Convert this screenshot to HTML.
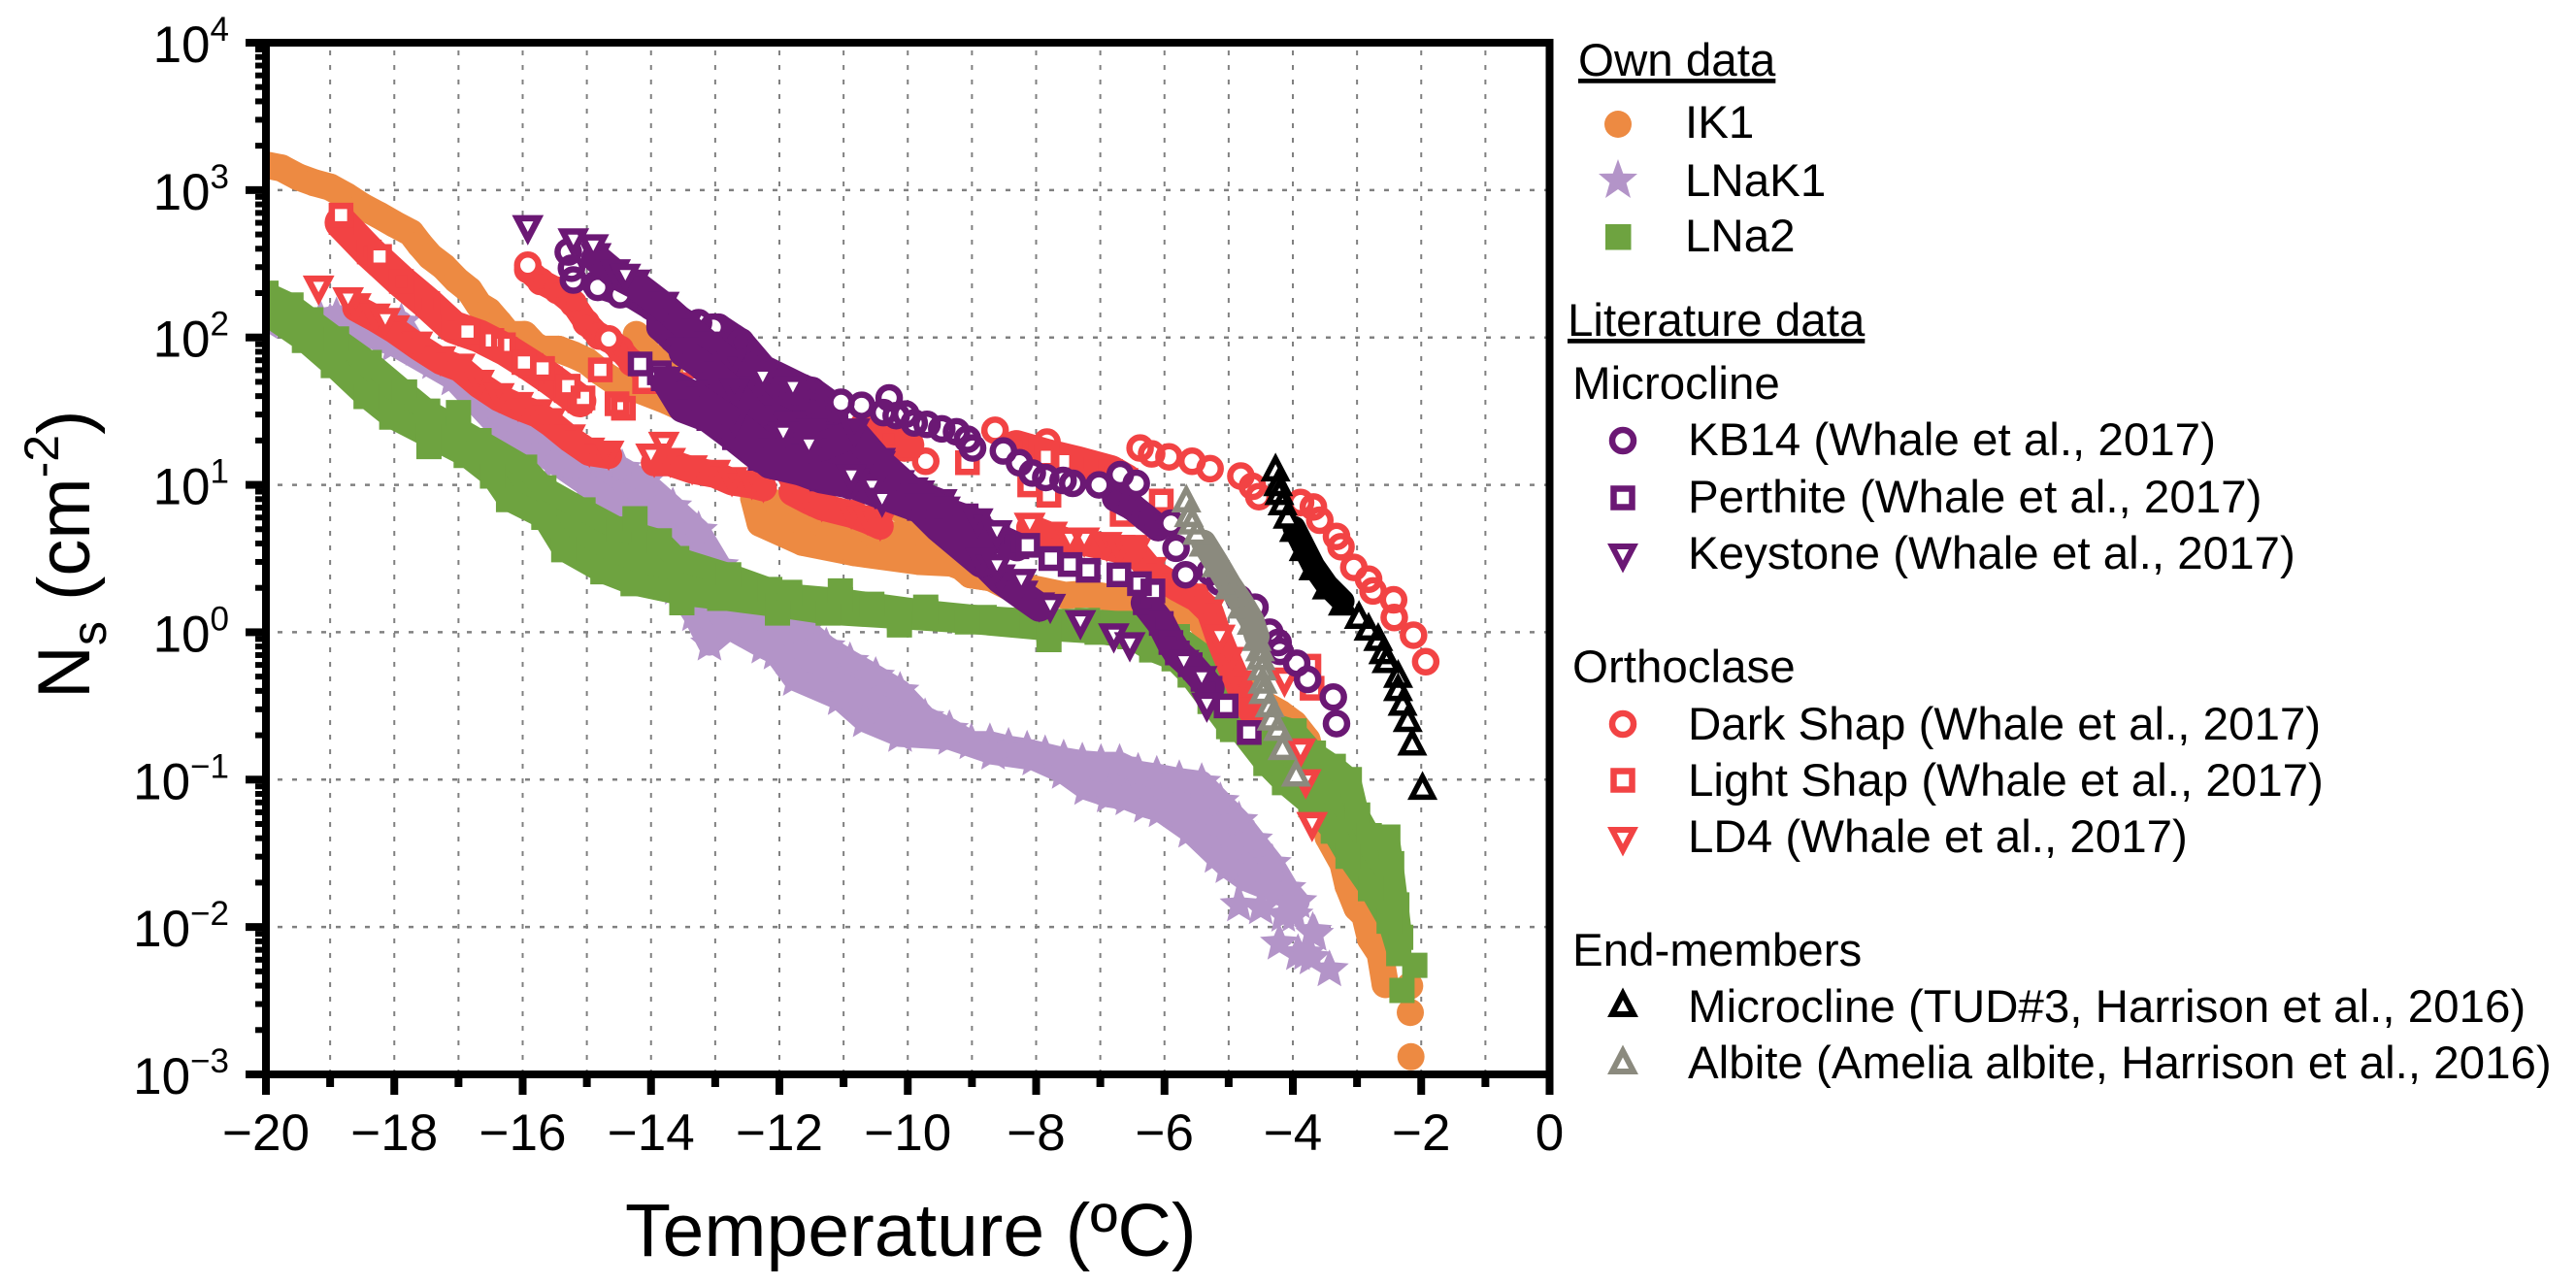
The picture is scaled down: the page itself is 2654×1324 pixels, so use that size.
<!DOCTYPE html>
<html lang="en">
<head>
<meta charset="utf-8">
<title>Ns versus temperature</title>
<style>
html,body{margin:0;padding:0;background:#fff;width:2654px;height:1324px;overflow:hidden}
svg{display:block}
text{font-family:"Liberation Sans",Arial,sans-serif;fill:#000}
.lg{font-size:47.5px}
</style>
</head>
<body>
<svg id="chart" xmlns="http://www.w3.org/2000/svg" width="2654" height="1324" viewBox="0 0 2654 1324">
<rect width="2654" height="1324" fill="#fff"/>
<defs><clipPath id="plotClip"><rect x="274" y="44" width="1322.5" height="1063"/></clipPath></defs>
<g id="grid"></g>
<g id="data" clip-path="url(#plotClip)"></g>
<g id="axes"></g>
<text x="644" y="1294" font-size="77">Temperature (ºC)</text>
<text transform="translate(92,720) rotate(-90)" font-size="76">N<tspan font-size="50" dy="17">s</tspan><tspan dy="-17"> (cm</tspan><tspan font-size="50" dy="-32">-2</tspan><tspan dy="32">)</tspan></text>
<g>
<text class="lg" x="1626" y="78" text-decoration="underline">Own data</text>
<circle cx="1667" cy="128" r="14" fill="#ED8A42"/>
<text class="lg" x="1736" y="142">IK1</text>
<path d="M1667 164 L1672.3 178.7 L1687 179 L1675.6 188.6 L1680 204 L1667 195 L1654 204 L1658.4 188.6 L1647 179 L1661.7 178.7 Z" fill="#B394C8"/>
<text class="lg" x="1736" y="202">LNaK1</text>
<rect x="1654" y="231" width="26.5" height="26.5" fill="#6EA340"/>
<text class="lg" x="1736" y="259">LNa2</text>
<text class="lg" x="1615" y="346" text-decoration="underline">Literature data</text>
<text class="lg" x="1620" y="411">Microcline</text>
<circle cx="1672" cy="454" r="11" fill="#fff" stroke="#6B1874" stroke-width="6.5"/>
<text class="lg" x="1739" y="469">KB14 (Whale et al., 2017)</text>
<rect x="1662.5" y="503.5" width="19" height="19" fill="#fff" stroke="#6B1874" stroke-width="6.5"/>
<text class="lg" x="1739" y="528">Perthite (Whale et al., 2017)</text>
<path d="M1661 563 L1683 563 L1672 584 Z" fill="#fff" stroke="#6B1874" stroke-width="6"/>
<text class="lg" x="1739" y="586">Keystone (Whale et al., 2017)</text>
<text class="lg" x="1620" y="703">Orthoclase</text>
<circle cx="1672" cy="746" r="11" fill="#fff" stroke="#F24344" stroke-width="6.5"/>
<text class="lg" x="1739" y="762">Dark Shap (Whale et al., 2017)</text>
<rect x="1662.5" y="794.5" width="19" height="19" fill="#fff" stroke="#F24344" stroke-width="6.5"/>
<text class="lg" x="1739" y="820">Light Shap (Whale et al., 2017)</text>
<path d="M1661 855 L1683 855 L1672 876 Z" fill="#fff" stroke="#F24344" stroke-width="6"/>
<text class="lg" x="1739" y="878">LD4 (Whale et al., 2017)</text>
<text class="lg" x="1620" y="995">End-members</text>
<path d="M1661 1045 L1683 1045 L1672 1024 Z" fill="#fff" stroke="#000" stroke-width="6"/>
<text class="lg" x="1739" y="1053">Microcline (TUD#3, Harrison et al., 2016)</text>
<path d="M1661 1104 L1683 1104 L1672 1083 Z" fill="#fff" stroke="#8B8A7E" stroke-width="6"/>
<text class="lg" x="1739" y="1111">Albite (Amelia albite, Harrison et al., 2016)</text>
</g>
</svg>
<script>
// Axis ticks
const xMajorTicks = [-20,-18,-16,-14,-12,-10,-8,-6,-4,-2,0];
const xMinorTicks = [-19,-17,-15,-13,-11,-9,-7,-5,-3,-1];
const xGridValues = [-19,-18,-17,-16,-15,-14,-13,-12,-11,-10,-9,-8,-7,-6,-5,-4,-3,-2,-1];
const yExponents = [4,3,2,1,0,-1,-2,-3];
const yGridExponents = [3,2,1,0,-1,-2];
const yMinorMultipliers = [2,3,4,5,6,7,8,9];

// IK1: temperature (°C) and log10(Ns)
const ik1RunAT = [-20,-19.76,-19.5,-19.25,-19,-18.75,-18.5,-18.24,-18,-17.74,-17.6,-17.44,-17.23,-17.03,-16.83,-16.68,-16.53,-16.37,-16.22,-15.97,-15.82,-15.7,-15.44,-15.2,-15,-14.8,-14.56,-14.28,-13.75,-13.4,-13,-12.6,-12.12,-11.19,-10.5,-10,-9.67];
const ik1RunALog = [3.17,3.15,3.09,3.05,3.02,2.96,2.89,2.83,2.77,2.71,2.63,2.55,2.48,2.39,2.32,2.22,2.18,2.1,2.02,2.02,1.95,1.92,1.92,1.88,1.84,1.77,1.7,1.66,1.57,1.5,1.45,1.35,1.31,1.13,0.95,0.8,0.58];
const ik1RunBT = [-12.4,-12,-11.34,-10.33,-9.67,-9.32,-9.02,-8.71,-9.32,-9.82,-10.83,-11.64,-12.3];
const ik1RunBLog = [0.91,0.87,0.74,0.67,0.58,0.5,0.39,0.37,0.47,0.48,0.54,0.61,0.74];
const ik1RunCT = [-9.02,-8.71,-8.3,-8.2,-7.55,-7.2,-6.49,-5.9,-5.65,-5.44,-5.2,-5,-4.6,-4.2,-3.98,-3.78,-3.6,-3.45,-3.22,-3.14,-3,-2.88,-2.79,-2.64,-2.56];
const ik1RunCLog = [0.39,0.37,0.28,0.31,0.25,0.26,0.21,0.17,0.12,0.08,-0.1,-0.25,-0.45,-0.55,-0.62,-0.73,-1,-1.39,-1.57,-1.72,-1.87,-1.92,-2.08,-2.18,-2.39];
const ik1PointT = [-14.23,-14.1,-13.9,-13.7,-13.4,-2.18,-2.17,-2.16];
const ik1PointLog = [2.02,1.94,1.86,1.75,1.6,-2.4,-2.58,-2.88];

// LNaK1
const lnak1BandT = [-20,-19.5,-19.15,-18.9,-18.5,-18.19,-17.89,-17.64,-17.38,-17.08,-16.68,-16.37,-15.97,-15.62,-15.11,-14.76,-14.45,-14.1,-13.66,-13.26,-12.93,-12.52,-12,-11.6,-11.27,-10.9,-10.5,-10.12,-9.73,-9.35,-9.01,-8.72,-8.43,-8.14,-7.86,-7.57,-7.28,-6.99,-6.7,-6.41,-6.12,-5.77,-5.42,-5.13,-4.84,-4.61,-4.32,-4.09,-3.92,-4.38,-4.73,-5.02,-5.19,-5.6,-6.06,-6.29,-6.58,-6.87,-7.22,-7.57,-8.03,-8.67,-9.34,-10.12,-10.67,-11.06,-11.76,-12.06,-12.25,-12.79,-13.09,-13.33,-13.6,-14,-15,-15.5,-16.4,-17.08,-18,-19,-20];
const lnak1BandLog = [2.12,2.12,2.12,2.14,2.14,2.03,2.1,1.92,1.83,1.72,1.59,1.46,1.37,1.31,1.2,1.18,1.11,1.02,0.85,0.69,0.45,0.28,0.15,0.02,-0.1,-0.2,-0.3,-0.4,-0.58,-0.66,-0.75,-0.75,-0.78,-0.8,-0.83,-0.86,-0.88,-0.89,-0.89,-0.95,-0.97,-1,-1.02,-1.15,-1.28,-1.41,-1.57,-1.74,-1.83,-1.74,-1.68,-1.59,-1.52,-1.35,-1.21,-1.18,-1.13,-1.11,-1.06,-0.95,-0.86,-0.82,-0.72,-0.7,-0.6,-0.45,-0.32,-0.14,-0.1,0.03,-0.08,0.12,0.3,0.7,1,1.15,1.4,1.72,1.95,2.1,2.1];
const lnak1PointT = [-4.84,-4.5,-4.21,-4.15,-3.98,-3.92,-3.8,-3.71,-3.69,-3.66,-3.43];
const lnak1PointLog = [-1.85,-1.87,-2.11,-1.92,-1.92,-2.18,-2.18,-2.21,-2.03,-2.05,-2.29];

// LNa2
const lna2BandT = [-20,-19.61,-19.3,-18.9,-18.39,-17.84,-17.48,-17,-16.68,-15.97,-15.67,-15.06,-14.5,-13.87,-13.6,-12.79,-12.15,-11.84,-11.05,-10.56,-9.72,-8.81,-8.06,-7.2,-6.55,-5.8,-5.39,-5.09,-4.89,-4.54,-3.98,-3.68,-3.37,-3.12,-2.99,-2.81,-2.52,-2.46,-2.38,-2.32,-2.35,-2.5,-2.79,-3.14,-3.37,-3.72,-4.13,-4.42,-4.94,-5,-5.29,-5.6,-5.85,-6.2,-6.54,-7.05,-7.8,-9.07,-10.13,-11.24,-12.03,-12.93,-13.52,-14.28,-14.75,-15.36,-15.67,-16.22,-16.47,-16.88,-17.46,-18.04,-18.44,-18.95,-19.4,-20];
const lna2BandLog = [2.3,2.22,2.12,1.99,1.83,1.63,1.5,1.38,1.3,1.12,0.98,0.83,0.7,0.62,0.5,0.39,0.29,0.25,0.22,0.19,0.14,0.1,0.08,0.08,0.06,-0.03,-0.16,-0.32,-0.45,-0.6,-0.67,-0.82,-0.91,-1,-1.24,-1.38,-1.39,-1.57,-1.85,-2.07,-2.18,-1.96,-1.74,-1.52,-1.35,-1.17,-1.02,-0.89,-0.6,-0.64,-0.47,-0.29,-0.18,-0.12,-0.03,0,0.02,0.07,0.1,0.13,0.18,0.23,0.26,0.33,0.41,0.56,0.78,0.9,1.06,1.2,1.33,1.46,1.6,1.81,1.98,2.16];
const lna2PointT = [-17,-14.25,-11.84,-11.05,-9.72,-13.52,-12.03,-10.13,-7.8,-17.46,-4.94,-2.1,-2.3];
const lna2PointLog = [1.49,0.77,0.27,0.28,0.17,0.2,0.13,0.05,-0.05,1.26,-0.66,-2.26,-2.43];

// Dark Shap
const darkRunT = [-15.92,-15.72,-15.46,-15.21,-15.01,-14.81,-14.66,-14.48,-14.3,-14,-13.5,-13,-12.5];
const darkRunLog = [2.46,2.38,2.32,2.23,2.1,2.01,1.99,1.92,1.83,1.75,1.65,1.6,1.55];
const darkPointT = [-15.92,-14.66,-12.02,-10.05,-9.72,-8.64,-7.83,-6.38,-6.2,-5.93,-5.57,-5.29,-4.81,-4.63,-4.53,-3.88,-3.68,-3.58,-3.32,-3.25,-3.05,-2.82,-2.75,-2.43,-2.42,-2.12,-1.93];
const darkPointLog = [2.49,1.99,1.53,1.25,1.16,1.37,1.29,1.25,1.21,1.19,1.16,1.11,1.06,0.99,0.92,0.88,0.85,0.76,0.65,0.58,0.44,0.36,0.28,0.22,0.1,-0.02,-0.2];

// Light Shap
const lightRunAT = [-18.83,-18.39,-17.89,-17.48,-17.08,-16.68,-16.27,-15.87,-15.57,-15.32,-15.11];
const lightRunALog = [2.78,2.58,2.38,2.23,2.07,2.01,1.92,1.81,1.72,1.64,1.57];
const lightRunBT = [-10.66,-10.3,-10];
const lightRunBLog = [1.39,1.31,1.27];
const lightRunCT = [-8.31,-7.83,-7.35,-6.84,-6.6];
const lightRunCLog = [1.26,1.2,1.15,1.09,1.03];
const lightPointT = [-18.83,-18.23,-16.86,-16.48,-16.3,-15.98,-15.69,-15.29,-15.06,-14.79,-14.53,-14.43,-14.1,-13.36,-13.1,-13.1,-12.02,-12,-9.07,-7.83,-7.58,-7.8,-8.1,-6.66,-6.05,-3.75,-3.7];
const lightPointLog = [2.83,2.55,2.04,1.98,1.95,1.83,1.79,1.67,1.59,1.78,1.55,1.52,1.7,1.68,1.61,1.48,1.48,1.57,1.15,1.19,1.16,0.93,1,0.8,0.89,-0.23,-0.38];

// LD4
const ld4RunAT = [-18.6,-18.3,-18,-17.64,-17.28,-16.98,-16.68,-16.37,-16.07,-15.77,-15.57,-15.26,-14.96,-14.66];
const ld4RunALog = [2.2,2.13,2.05,1.94,1.84,1.79,1.68,1.59,1.53,1.48,1.42,1.31,1.22,1.2];
const ld4RunBT = [-6.45,-6.2,-5.8,-5.5,-5.29,-5.14,-5,-4.84,-4.64];
const ld4RunBLog = [0.54,0.41,0.3,0.23,0.14,-0.05,-0.2,-0.36,-0.54];
const ld4RunCT = [-13.95,-13.7,-13.36,-13,-12.74,-12.43,-12.25];
const ld4RunCLog = [1.15,1.15,1.1,1.07,1.02,1,0.98];
const ld4RunDT = [-11.8,-11.54,-11.34,-10.88,-10.63,-10.43];
const ld4RunDLog = [0.95,0.89,0.85,0.8,0.76,0.72];
const ld4RunET = [-8.1,-7.75,-7.47,-7.25,-6.9,-6.7,-6.49];
const ld4RunELog = [0.71,0.65,0.61,0.61,0.58,0.56,0.56];
const ld4PointT = [-19.18,-18.72,-18.14,-14,-13.8,-7.47,-7.25,-8.1,-5.14,-4.13,-3.88,-3.8,-3.7];
const ld4PointLog = [2.32,2.24,2.1,1.18,1.26,0.61,0.61,0.71,-0.05,-0.34,-0.82,-1.03,-1.32];

// KB14
const kb14RunAT = [-14.86,-14.56,-14.3,-14,-13.7,-13.39,-13.26,-12.75,-12.45,-12.15,-11.84,-11.49,-11.14];
const kb14RunALog = [2.36,2.32,2.29,2.21,2.12,2.05,2.06,1.94,1.83,1.72,1.68,1.64,1.53];
const kb14RunBT = [-6.76,-6.5,-6.3,-6.1];
const kb14RunBLog = [0.91,0.85,0.78,0.71];
const kb14MassT = [-13.86,-13.36,-12.95,-12.6,-12.25,-11.64,-11.24,-11.14,-11.49,-11.74,-12.2,-12.45,-12.75,-13,-13.36,-13.66,-13.86];
const kb14MassLog = [2.21,2.07,2.07,1.97,1.79,1.66,1.55,1.46,1.53,1.59,1.64,1.59,1.59,1.72,1.86,1.99,2.07];
const kb14PointT = [-15.29,-15.24,-15.21,-14.83,-14.48,-13.26,-13.03,-11.04,-10.72,-10.29,-10.38,-10.18,-10.03,-9.9,-9.7,-9.47,-9.24,-9.07,-8.99,-8.51,-8.26,-8.06,-7.85,-7.58,-7.43,-7.02,-6.69,-6.44,-5.9,-5.82,-5.67,-5.29,-5.14,-4.84,-4.59,-4.36,-4.23,-4.2,-3.94,-3.77,-3.37,-3.32];
const kb14PointLog = [2.58,2.47,2.39,2.34,2.29,2.1,2.07,1.56,1.54,1.59,1.49,1.47,1.48,1.42,1.41,1.38,1.36,1.31,1.25,1.23,1.15,1.08,1.05,1.03,1.01,1,1.07,1.01,0.74,0.57,0.39,0.41,0.34,0.23,0.17,0,-0.07,-0.13,-0.21,-0.32,-0.44,-0.62];

// Perthite
const perthiteRunAT = [-13.81,-13.41,-13.1,-12.7,-12.3,-11.84,-11.34,-10.83,-10.33,-9.82,-9.42,-9,-8.6,-8.3];
const perthiteRunALog = [1.72,1.59,1.45,1.32,1.18,1.12,1.04,1,0.92,0.84,0.76,0.72,0.64,0.58];
const perthiteRunBT = [-6.3,-6.05,-5.9,-5.8,-5.6,-5.4,-5.29];
const perthiteRunBLog = [0.2,0.06,-0.07,-0.14,-0.22,-0.32,-0.38];
const perthitePointT = [-14.17,-13.87,-13.39,-13.09,-9.09,-8.13,-7.77,-7.47,-7.19,-6.71,-6.39,-6.18,-5.04,-4.68];
const perthitePointLog = [1.82,1.76,1.59,1.48,0.79,0.59,0.5,0.46,0.42,0.39,0.33,0.28,-0.5,-0.68];

// Keystone
const keystoneRunAT = [-14.86,-14.56,-14.25,-13.8,-13.44,-13.09,-12.74,-12.55,-12.2,-11.84,-11.49,-11.04,-10.73,-10.43,-10.13,-9.82,-9.47,-9.2,-9.02,-8.81,-8.56,-8.21,-7.95];
const keystoneRunALog = [2.54,2.43,2.36,2.21,2.07,1.94,1.81,1.64,1.48,1.4,1.35,1.31,1.22,1.13,1,0.93,0.87,0.72,0.56,0.47,0.36,0.25,0.17];
const keystoneRunBT = [-13.5,-13.1,-12.7,-12.3,-12,-11.6,-11.2,-10.9];
const keystoneRunBLog = [1.9,1.78,1.62,1.42,1.3,1.2,1.1,1];
const keystoneMassT = [-13.76,-13.36,-12.7,-12.25,-11.74,-11.34,-10.83,-10.43,-9.92,-9.42,-8.91,-8.86,-9.52,-9.82,-10.83,-12.15,-12.9,-13.51];
const keystoneMassLog = [1.7,1.61,1.42,1.26,1.22,1.26,1.35,1.15,0.95,0.82,0.74,0.47,0.71,0.84,1.01,1.14,1.42,1.52];
const keystonePointT = [-15.92,-15.21,-14.9,-14.4,-12.26,-11.79,-11.94,-11.54,-10.88,-10.56,-10.4,-8.61,-8.61,-8.23,-7.78,-7.31,-6.79,-6.54,-5.7,-5.42,-5.34];
const keystonePointLog = [2.73,2.64,2.6,2.4,1.71,1.64,1.33,1.25,1.04,0.97,0.88,0.66,0.43,0.33,0.16,0.05,-0.04,-0.1,-0.22,-0.33,-0.51];

// Microcline TUD#3
const tudRunT = [-3.98,-3.83,-3.68,-3.47,-3.22];
const tudRunLog = [0.71,0.58,0.45,0.32,0.21];
const tudPointT = [-4.27,-4.23,-4.21,-4.16,-4.08,-2.97,-2.82,-2.67,-2.59,-2.54,-2.36,-2.36,-2.29,-2.21,-2.14,-1.98];
const tudPointLog = [1.12,1.02,0.96,0.89,0.8,0.12,0.04,-0.03,-0.12,-0.18,-0.28,-0.37,-0.47,-0.58,-0.74,-1.04];

// Amelia albite
const albiteRunT = [-5.39,-5.19,-4.99,-4.79,-4.64,-4.56];
const albiteRunLog = [0.61,0.47,0.32,0.19,0.08,-0.03];
const albitePointT = [-5.66,-5.62,-5.57,-5.49,-4.51,-4.5,-4.48,-4.47,-4.46,-4.36,-4.33,-4.23,-4.16,-3.95];
const albitePointLog = [0.91,0.81,0.76,0.69,-0.1,-0.16,-0.23,-0.32,-0.39,-0.48,-0.57,-0.64,-0.77,-0.95];

const SVGNS = 'http://www.w3.org/2000/svg';
function xScale(t){ return 274 + (t + 20) * 66.125; }
function yScale(logN){ return 44 + (4 - logN) * 151.857; }

function shapePath(kind, x, y){
  if (kind === 'circle-open') return 'M'+(x-11)+' '+y+'a11 11 0 1 0 22 0a11 11 0 1 0 -22 0Z';
  if (kind === 'circle-solid') return 'M'+(x-14)+' '+y+'a14 14 0 1 0 28 0a14 14 0 1 0 -28 0Z';
  if (kind === 'square-open') return 'M'+(x-9.5)+' '+(y-9.5)+'h19v19h-19Z';
  if (kind === 'square-solid') return 'M'+(x-13)+' '+(y-13)+'h26v26h-26Z';
  if (kind === 'tri-down') return 'M'+(x-11)+' '+(y-12)+'h22L'+x+' '+(y+9)+'Z';
  if (kind === 'tri-up') return 'M'+(x-11)+' '+(y+12)+'h22L'+x+' '+(y-9)+'Z';
  let d = '';
  for (let i = 0; i < 10; i++){
    const r = i % 2 ? 9.5 : 21;
    const a = -Math.PI / 2 + i * Math.PI / 5;
    d += (i ? 'L' : 'M') + (x + r * Math.cos(a)).toFixed(1) + ' ' + (y + r * Math.sin(a)).toFixed(1);
  }
  return d + 'Z';
}

function addEl(parent, tag, attrs){
  const el = document.createElementNS(SVGNS, tag);
  for (const k in attrs) el.setAttribute(k, attrs[k]);
  parent.appendChild(el);
  return el;
}

const seriesTable = [
  {id:'ik1', color:'#ED8A42', shape:'circle-solid', open:false, width:28, runs:[[ik1RunAT,ik1RunALog,false],[ik1RunBT,ik1RunBLog,true],[ik1RunCT,ik1RunCLog,false]], t:ik1PointT, n:ik1PointLog},
  {id:'lnak1', color:'#B394C8', shape:'star', open:false, width:24, runs:[[lnak1BandT,lnak1BandLog,true]], t:lnak1PointT, n:lnak1PointLog},
  {id:'lna2', color:'#6EA340', shape:'square-solid', open:false, width:24, runs:[[lna2BandT,lna2BandLog,true]], t:lna2PointT, n:lna2PointLog},
  {id:'dark-shap', color:'#F24344', shape:'circle-open', open:true, width:26, runs:[[darkRunT,darkRunLog,false]], t:darkPointT, n:darkPointLog},
  {id:'light-shap', color:'#F24344', shape:'square-open', open:true, width:34, runs:[[lightRunAT,lightRunALog,false],[lightRunBT,lightRunBLog,false],[lightRunCT,lightRunCLog,false]], t:lightPointT, n:lightPointLog},
  {id:'ld4', color:'#F24344', shape:'tri-down', open:true, width:28, runs:[[ld4RunAT,ld4RunALog,false],[ld4RunBT,ld4RunBLog,false],[ld4RunCT,ld4RunCLog,false],[ld4RunDT,ld4RunDLog,false],[ld4RunET,ld4RunELog,false]], t:ld4PointT, n:ld4PointLog},
  {id:'kb14', color:'#6B1874', shape:'circle-open', open:true, width:28, runs:[[kb14RunAT,kb14RunALog,false],[kb14RunBT,kb14RunBLog,false],[kb14MassT,kb14MassLog,true]], t:kb14PointT, n:kb14PointLog},
  {id:'perthite', color:'#6B1874', shape:'square-open', open:true, width:30, runs:[[perthiteRunAT,perthiteRunALog,false],[perthiteRunBT,perthiteRunBLog,false]], t:perthitePointT, n:perthitePointLog},
  {id:'keystone', color:'#6B1874', shape:'tri-down', open:true, width:30, runs:[[keystoneRunAT,keystoneRunALog,false],[keystoneRunBT,keystoneRunBLog,false],[keystoneMassT,keystoneMassLog,true]], t:keystonePointT, n:keystonePointLog},
  {id:'tud3', color:'#000000', shape:'tri-up', open:true, width:24, runs:[[tudRunT,tudRunLog,false]], t:tudPointT, n:tudPointLog},
  {id:'albite', color:'#8B8A7E', shape:'tri-up', open:true, width:26, runs:[[albiteRunT,albiteRunLog,false]], t:albitePointT, n:albitePointLog}
];

const dataLayer = document.getElementById('data');
seriesTable.forEach(function(s){
  const g = addEl(dataLayer, 'g', {});
  
  
  const strokeW = s.shape === 'tri-up' ? 5.5 : 6.5;
  s.runs.forEach(function(run){
    const pts = run[0].map(function(t, i){ return xScale(t).toFixed(1) + ',' + yScale(run[1][i]).toFixed(1); }).join(' ');
    const band = addEl(g, run[2] ? 'polygon' : 'polyline', {points:pts, fill:run[2] ? s.color : 'none', stroke:s.color, 'stroke-width':s.width, 'stroke-linejoin':'round', 'stroke-linecap':'round'});
    
    
    run[0].forEach(function(t, i){
      const attrs = {d:shapePath(s.shape, xScale(t), yScale(run[1][i])), fill:s.color};
      if (s.open){ attrs.stroke = s.color; attrs['stroke-width'] = strokeW; }
      const m = addEl(g, 'path', attrs);
      
      
    });
  });
  if (s.open){
    s.t.forEach(function(t, i){
      const f = addEl(g, 'path', {d:shapePath(s.shape, xScale(t), yScale(s.n[i])), fill:'#fff'});
      
      
    });
  }
  s.t.forEach(function(t, i){
    const attrs = {d:shapePath(s.shape, xScale(t), yScale(s.n[i]))};
    if (s.open){ attrs.fill = 'none'; attrs.stroke = s.color; attrs['stroke-width'] = strokeW; }
    else { attrs.fill = s.color; }
    const m = addEl(g, 'path', attrs);
    
    
  });
});

const gridLayer = document.getElementById('grid');
xGridValues.forEach(function(v){
  const l = addEl(gridLayer, 'line', {x1:xScale(v), x2:xScale(v), y1:1107, y2:44, stroke:'#808080', 'stroke-width':2, 'stroke-dasharray':'5 10'});
  
  
});
yGridExponents.forEach(function(v){
  const l = addEl(gridLayer, 'line', {x1:286, x2:1596, y1:yScale(v), y2:yScale(v), stroke:'#808080', 'stroke-width':2.5, 'stroke-dasharray':'5 10'});
  
  
});

const axesLayer = document.getElementById('axes');
const frame = [[270,40,8,1071,'left-axis-line'],[1592.5,40,8,1071,'right-axis-line'],[253,40,1347.5,8,'top-axis-line'],[253,1103,1347.5,8,'bottom-axis-line']];
frame.forEach(function(r){
  const el = addEl(axesLayer, 'rect', {x:r[0], y:r[1], width:r[2], height:r[3], fill:'#000'});
  
  
});
xMajorTicks.forEach(function(v){
  const tick = addEl(axesLayer, 'rect', {x:xScale(v)-4, y:1107, width:8, height:21, fill:'#000'});
  
  
  const label = addEl(axesLayer, 'text', {x:xScale(v), y:1185, 'font-size':53, 'text-anchor':'middle'});
  label.textContent = v < 0 ? '\u2212' + Math.abs(v) : String(v);
  
  
});
xMinorTicks.forEach(function(v){
  const tick = addEl(axesLayer, 'rect', {x:xScale(v)-4, y:1107, width:8, height:13, fill:'#000'});
  
  
});
yExponents.forEach(function(e, idx){
  const tick = addEl(axesLayer, 'rect', {x:253, y:yScale(e)-4, width:20, height:8, fill:'#000'});
  
  
  const label = addEl(axesLayer, 'text', {x:236, y:yScale(e)+20, 'font-size':53, 'text-anchor':'end'});
  
  
  const base = addEl(label, 'tspan', {});
  base.textContent = '10';
  const sup = addEl(label, 'tspan', {'font-size':35, dy:-22});
  sup.textContent = e < 0 ? '\u2212' + Math.abs(e) : String(e);
  if (idx < yExponents.length - 1){
    yMinorMultipliers.forEach(function(m){
      const minor = addEl(axesLayer, 'rect', {x:263, y:yScale(e - 1 + Math.log10(m))-3, width:10, height:6, fill:'#000'});
      
      
    });
  }
});
</script>
</body>
</html>
